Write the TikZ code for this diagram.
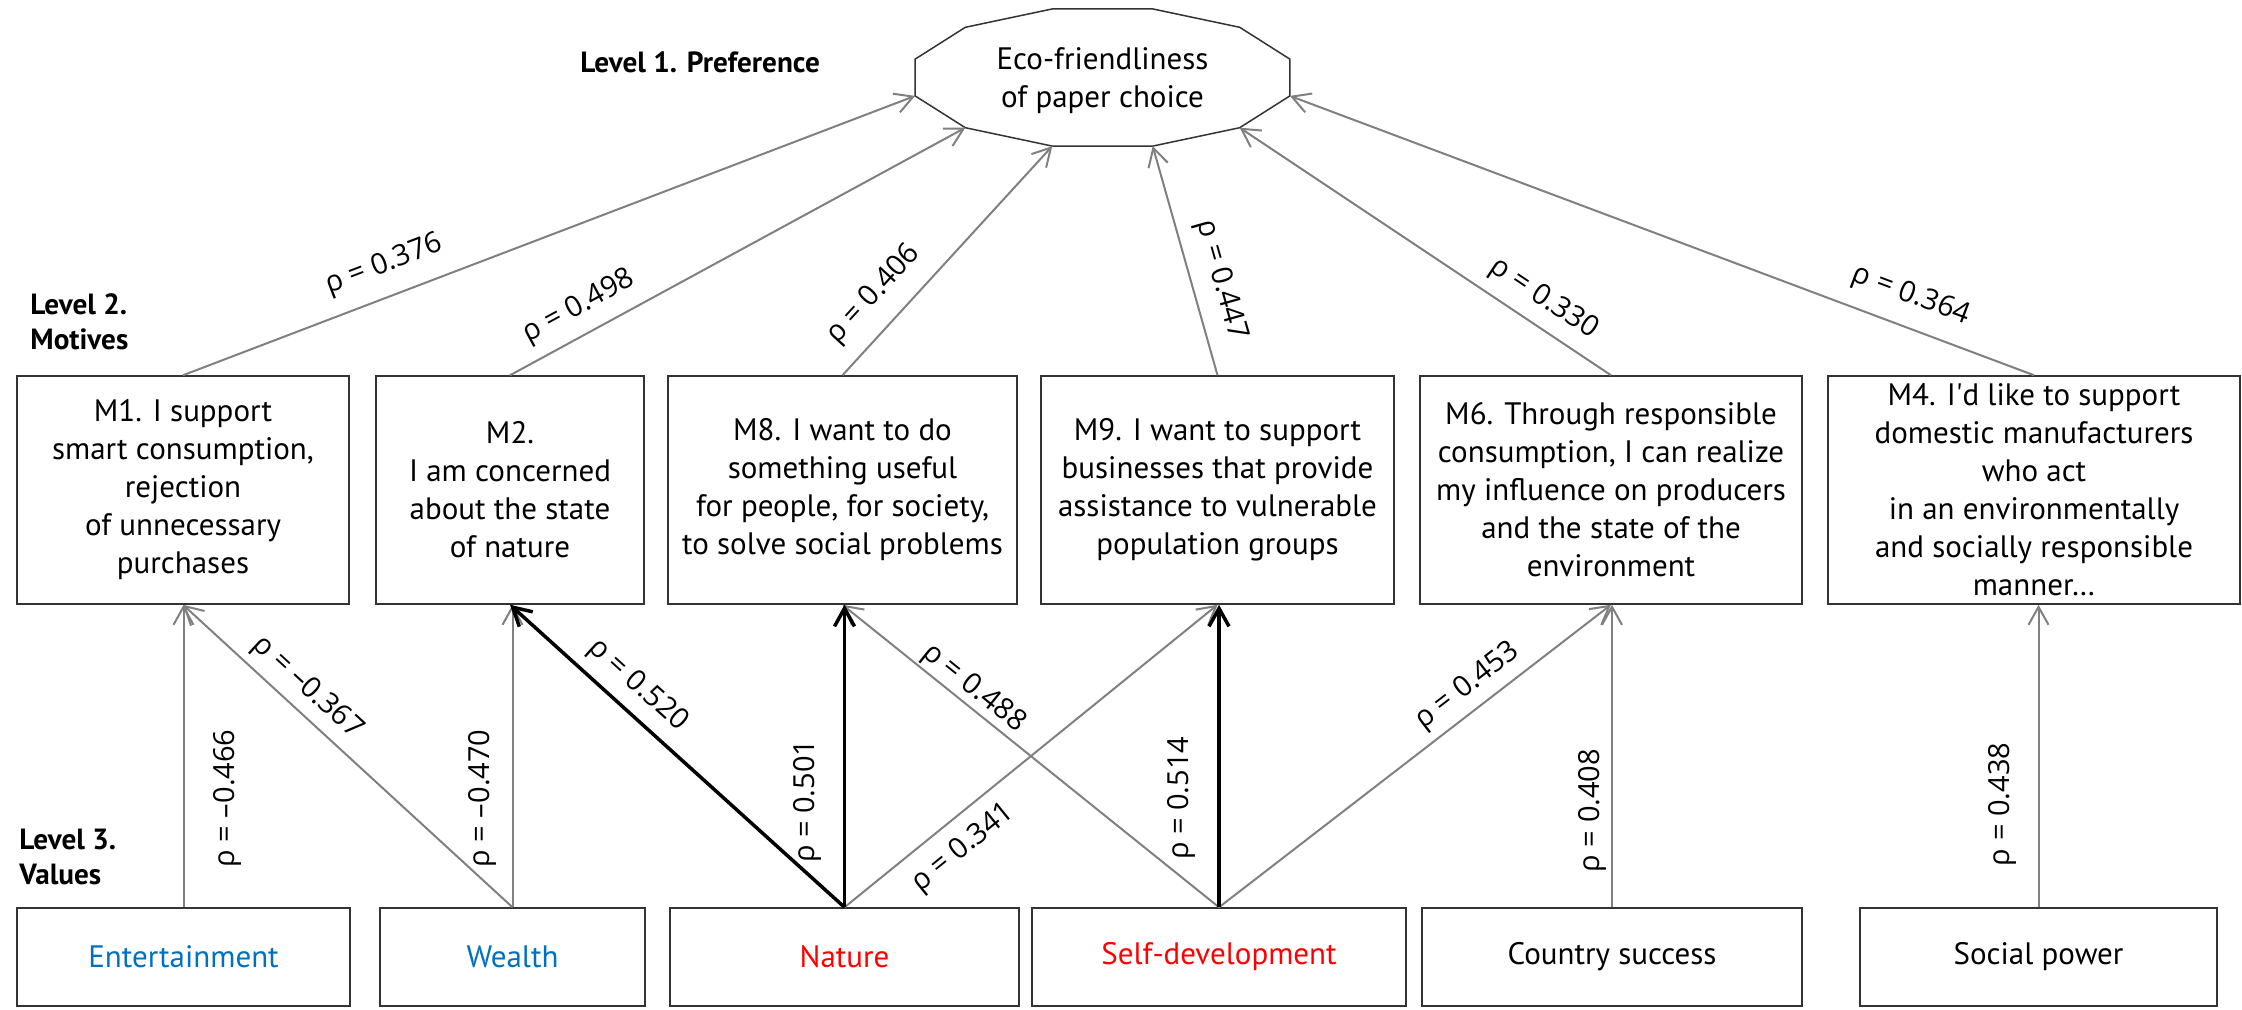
\documentclass[tikz,border=0pt]{standalone}
\usepackage{fontspec}
\setmainfont{PT Sans}
\newfontfamily\rhofont{Open Sans}
\usetikzlibrary{arrows.meta}

\definecolor{valueblue}{RGB}{0,112,192}
\definecolor{valuered}{RGB}{255,0,0}
\definecolor{linkgray}{RGB}{128,128,128}

\tikzset{
    boxtext/.style={font=\fontsize{15.5}{19}\selectfont},
    motive/.style={draw=black!80, line width=0.75pt, boxtext, align=center,
        minimum width=#1, minimum height=114pt, inner sep=0pt},
    valuebox/.style={draw=black!80, line width=0.75pt, boxtext,
        minimum width=#1, minimum height=49pt, inner sep=0pt},
    level/.style={anchor=west, align=left, inner sep=0pt,
        font=\fontsize{14.6}{17.5}\selectfont\bfseries},
    link/.style={linkgray, line width=1pt, -{Straight Barb[length=9pt,width=10pt]}},
    strong/.style={black, line width=1.75pt, -{Straight Barb[length=9pt,width=10pt]}},
    rho/.style={font=\rhofont\fontsize{14.5}{17}\selectfont, text=black, sloped, inner sep=2pt},
}

\begin{document}
\begin{tikzpicture}[x=0.5pt, y=-0.5pt]
    \useasboundingbox (0,0) rectangle (2242,1009);

    % level 1
    \foreach \i in {0,...,11}
        \coordinate (p\i) at ({1102.5+194*cos(15+30*\i)}, {77.5-71*sin(15+30*\i)});
    \draw[black!80, line width=0.75pt] (p0) \foreach \i in {1,...,11} {-- (p\i)} -- cycle;
    \node[boxtext, align=center] (pref) at (1102.5,81) {Eco-friendliness\\of paper choice};
    \node[level] (lv1) at (580,62) {Level 1. Preference};

    % level 2
    \node[level] (lv2) at (30,322) {Level 2.\\Motives};
    \node[motive=166pt] (m1) at (183,490) {M1. I support\\smart consumption,\\rejection\\of unnecessary\\purchases};
    \node[motive=134pt] (m2) at (510,490) {M2.\\I am concerned\\about the state\\of nature};
    \node[motive=174.5pt] (m8) at (842.5,490) {M8. I want to do\\something useful\\for people, for society,\\to solve social problems};
    \node[motive=176.5pt] (m9) at (1217.5,490) {M9. I want to support\\businesses that provide\\assistance to vulnerable\\population groups};
    \node[motive=191pt] (m6) at (1611,490) {M6. Through responsible\\consumption, I can realize\\my influence on producers\\and the state of the\\environment};
    \node[motive=206pt] (m4) at (2034,490) {M4. I\textquotesingle d like to support\\domestic manufacturers\\who act\\in an environmentally\\and socially responsible\\manner…};

    % level 3
    \node[level] (lv3) at (19,857) {Level 3.\\Values};
    \node[valuebox=166.5pt, text=valueblue] (ent) at (183.5,957) {Entertainment};
    \node[valuebox=132.5pt, text=valueblue] (wea) at (512.5,957) {Wealth};
    \node[valuebox=174.5pt, text=valuered] (nat) at (844.5,957) {Nature};
    \node[valuebox=187pt, text=valuered] (sel) at (1219,957) {Self-development};
    \node[valuebox=190pt] (cou) at (1612,957) {Country success};
    \node[valuebox=178.5pt] (soc) at (2038.5,957) {Social power};

    % motives -> preference
    \draw[link] (m1.north) -- (p6) node[rho, pos=0.29, above=6pt] {ρ = 0.376};
    \draw[link] (m2.north) -- (p7) node[rho, pos=0.18, above=4pt] {ρ = 0.498};
    \draw[link] (m8.north) -- (p8) node[rho, pos=0.26, above=6pt] {ρ = 0.406};
    \draw[link] (m9.north) -- (p9) node[rho, pos=0.38, above=5pt] {ρ = 0.447};
    \draw[link] (m6.north) -- (p10) node[rho, pos=0.22, above=3.5pt] {ρ = 0.330};
    \draw[link] (m4.north) -- (p11) node[rho, pos=0.18, above=6pt] {ρ = 0.364};

    % values -> motives
    \draw[link] (ent.north) -- (ent.north |- m1.south) node[rho, pos=0.36, below=12.5pt] {ρ = –0.466};
    \draw[link] (wea.north) -- (m1.south) node[rho, pos=0.67, above=2pt] {ρ = –0.367};
    \draw[link] (wea.north) -- (wea.north |- m2.south) node[rho, pos=0.36, above=5.5pt] {ρ = –0.470};
    \draw[link] (nat.north) -- (m9.south) node[rho, pos=0.27, below=5pt] {ρ = 0.341};
    \draw[link] (sel.north) -- (m8.south) node[rho, pos=0.68, above=-1pt] {ρ = 0.488};
    \draw[link] (sel.north) -- (m6.south) node[rho, pos=0.67, above=2pt] {ρ = 0.453};
    \draw[link] (cou.north) -- (cou.north |- m6.south) node[rho, pos=0.32, above=0.5pt] {ρ = 0.408};
    \draw[link] (soc.north) -- (soc.north |- m4.south) node[rho, pos=0.34, above=8.5pt] {ρ = 0.438};
    \draw[strong] (nat.north) -- (m2.south) node[rho, pos=0.67, above=3pt] {ρ = 0.520};
    \draw[strong] (nat.north) -- (nat.north |- m8.south) node[rho, pos=0.35, above=8.5pt] {ρ = 0.501};
    \draw[strong] (sel.north) -- (sel.north |- m9.south) node[rho, pos=0.36, above=9pt] {ρ = 0.514};
\end{tikzpicture}
\end{document}
